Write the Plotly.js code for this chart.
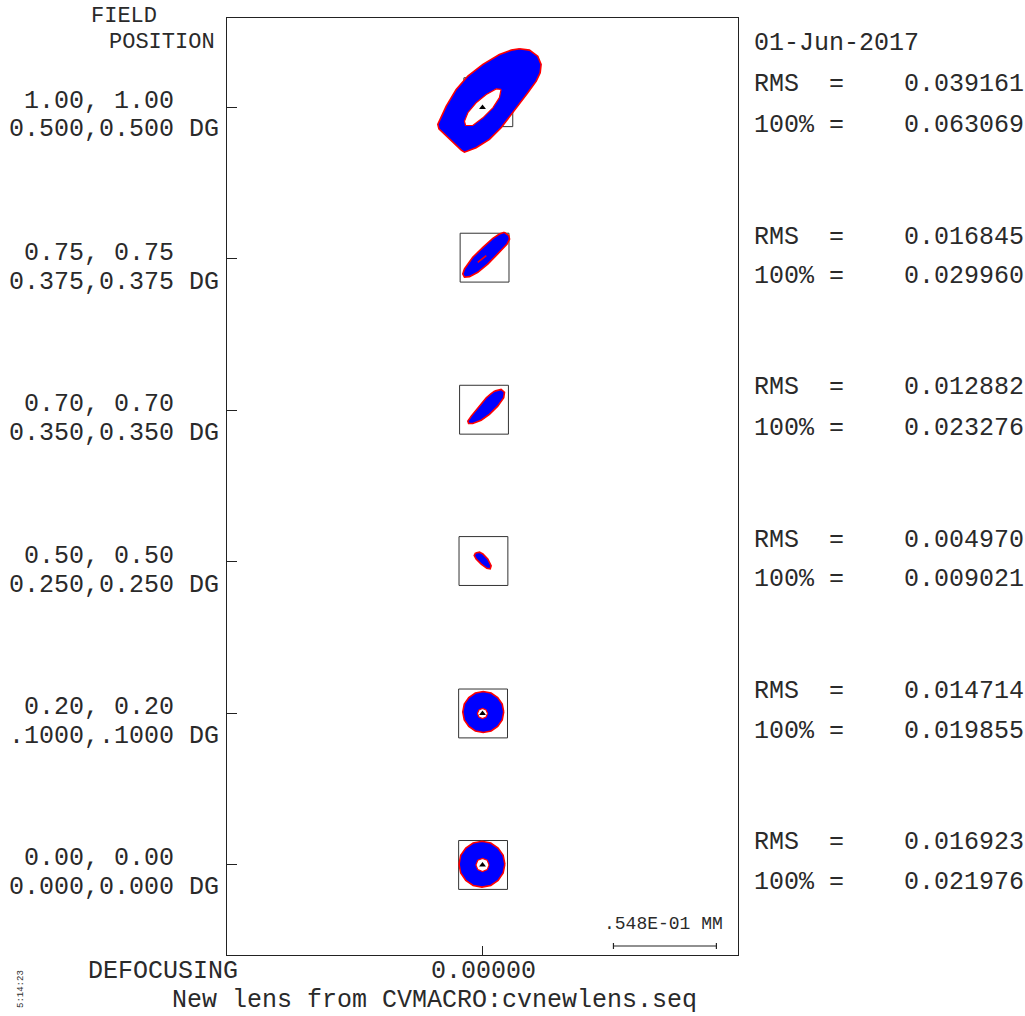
<!DOCTYPE html>
<html>
<head>
<meta charset="utf-8">
<script src="https://cdn.plot.ly/plotly-3.0.1.min.js"></script>
<style>html,body{margin:0;padding:0;background:#fff;}#chart{width:1025px;height:1016px;}</style>
</head>
<body>
<div id="chart"></div>
<script>
// ---------------- DATA (spot offsets in micrometres from the chief ray) ----------------
const fieldRel = ['1.00, 1.00', '0.75, 0.75', '0.70, 0.70', '0.50, 0.50', '0.20, 0.20', '0.00, 0.00'];
const fieldDeg = ['0.500,0.500 DG', '0.375,0.375 DG', '0.350,0.350 DG', '0.250,0.250 DG', '.1000,.1000 DG', '0.000,0.000 DG'];
const rmsValues = ['0.039161', '0.016845', '0.012882', '0.004970', '0.014714', '0.016923'];
const fullValues = ['0.063069', '0.029960', '0.023276', '0.009021', '0.019855', '0.021976'];

const spotOuterX = [
  [19.7, 25.0, 29.4, 31.2, 30.7, 28.6, 24.1, 16.1, 9.9, 3.7, -3.4, -9.6, -11.3, -23.2, -23.8, -19.3, -14.0, -7.8, 0.2, 9.0, 15.3],
  [11.7, 14.0, 14.4, 13.1, 8.1, 2.8, -2.5, -6.9, -9.6, -10.5, -9.6, -5.2, 0.2, 5.5, 9.0],
  [6.4, 9.9, 11.7, 11.3, 8.1, 3.7, -0.7, -5.2, -7.4, -7.8, -6.0, -2.5, 2.0, 4.6],
  [-3.7, -1.6, 0.2, 2.8, 4.6, 4.1, 2.3, -0.7, -3.4, -4.4],
  [11.3, 10.5, 8.1, 4.6, 0.4, -3.8, -7.3, -9.7, -10.5, -9.7, -7.3, -3.8, 0.4, 4.6, 8.1, 10.5],
  [11.9, 11.0, 8.3, 4.4, -0.3, -5.0, -8.9, -11.6, -12.5, -11.6, -8.9, -5.0, -0.3, 4.4, 8.3, 11.0]
];
const spotOuterY = [
  [31.2, 30.5, 27.3, 22.9, 18.5, 14.0, 7.8, -2.8, -10.8, -17.0, -21.4, -23.8, -22.7, -11.3, -9.0, 0.7, 9.6, 16.7, 22.9, 28.2, 30.5],
  [14.2, 12.4, 10.6, 8.0, 2.7, -2.7, -7.1, -9.4, -9.7, -8.0, -5.3, 0.9, 6.2, 11.0, 13.3],
  [10.3, 11.2, 9.7, 6.8, 2.3, -2.1, -5.2, -6.9, -6.9, -5.7, -3.0, 1.4, 6.8, 9.0],
  [4.8, 5.2, 4.3, 1.6, -2.0, -3.7, -3.4, -1.1, 1.6, 3.4],
  [0.8, 5.0, 8.5, 10.9, 11.7, 10.9, 8.5, 5.0, 0.8, -3.4, -6.9, -9.3, -10.1, -9.3, -6.9, -3.4],
  [0.4, 5.1, 9.0, 11.7, 12.6, 11.7, 9.0, 5.1, 0.4, -4.3, -8.2, -10.9, -11.8, -10.9, -8.2, -4.3]
];
const spotHoleX = [
  [9.9, 9.0, 5.5, 0.2, -5.2, -9.0, -9.6, -7.8, -3.4, 2.0, 7.3],
  null, null, null,
  [2.7, 1.9, 0.0, -1.9, -2.7, -1.9, 0.0, 1.9],
  [3.5, 2.5, 0.0, -2.5, -3.5, -2.5, 0.0, 2.5]
];
const spotHoleY = [
  [9.6, 5.2, -0.2, -5.5, -9.6, -9.6, -7.3, -2.8, 2.5, 6.9, 9.9],
  null, null, null,
  [0.0, 1.9, 2.7, 1.9, 0.0, -1.9, -2.7, -1.9],
  [0.0, 2.5, 3.5, 2.5, 0.0, -2.5, -3.5, -2.5]
];
const streakX = [null, [-2.5, 2.0], null, null, null, null];
const streakY = [null, [-1.8, 1.8], null, null, null, null];
const boxDx = [3.1, 1.1, 0.8, 0.5, 0.3, 0.3];
const boxDy = [2.8, 0.7, 0.4, 0.5, 0.0, 0.0];
const boxHalf = 13.0;
const chiefShown = [true, false, false, false, true, true];

const scaleBarUm = 54.8;
const scaleBarLabel = '.548E-01 MM';
const defocusLabel = '0.00000';
const dateLabel = '01-Jun-2017';
const lensTitle = 'New lens from CVMACRO:cvnewlens.seq';
const timeLabel = '5:14:23';

// ---------------- LAYOUT helpers ----------------
const W = 1025, H = 1016;
const PL = 227, PR = 738, PT = 18, PB = 955;
const rowPitch = 80.6;           // µm between field rows
const nRows = fieldRel.length;
const rowY = i => (nRows - 1 - i) * rowPitch;
const xRange = [-136, 136];
const yRange = [-47.9, 450.6];
const px = x => (x - PL) / (PR - PL);
const py = y => (PB - y) / (PB - PT);
const NB = '\u00A0';
const FONT = 'Liberation Mono, Courier New, monospace';
const TXT = '#2a2a2a';

const traces = [];

// boxes
(function () {
  const xs = [], ys = [];
  for (let i = 0; i < nRows; i++) {
    const cx = boxDx[i], cy = rowY(i) + boxDy[i];
    xs.push(cx - boxHalf, cx + boxHalf, cx + boxHalf, cx - boxHalf, cx - boxHalf, null);
    ys.push(cy - boxHalf, cy - boxHalf, cy + boxHalf, cy + boxHalf, cy - boxHalf, null);
  }
  traces.push({x: xs, y: ys, mode: 'lines', line: {color: '#333', width: 1}, hoverinfo: 'skip'});
})();

// spots
for (let i = 0; i < nRows; i++) {
  const ox = spotOuterX[i], oy = spotOuterY[i].map(v => v + rowY(i));
  traces.push({x: ox.concat([ox[0]]), y: oy.concat([oy[0]]), mode: 'lines', fill: 'toself',
    fillcolor: '#0000ff', line: {color: '#ff0000', width: 1.6}, hoverinfo: 'skip'});
  if (spotHoleX[i]) {
    const hx = spotHoleX[i], hy = spotHoleY[i].map(v => v + rowY(i));
    traces.push({x: hx.concat([hx[0]]), y: hy.concat([hy[0]]), mode: 'lines', fill: 'toself',
      fillcolor: '#ffffff', line: {color: '#ff0000', width: 1.2}, hoverinfo: 'skip'});
  }
  if (streakX[i]) {
    traces.push({x: streakX[i], y: streakY[i].map(v => v + rowY(i)), mode: 'lines',
      line: {color: '#ff0000', width: 1.5}, hoverinfo: 'skip'});
  }
}

// chief rays
(function () {
  const xs = [], ys = [];
  for (let i = 0; i < nRows; i++) if (chiefShown[i]) { xs.push(0); ys.push(rowY(i)); }
  traces.push({x: xs, y: ys, mode: 'markers', marker: {symbol: 'triangle-up', size: 6, color: '#000'}, hoverinfo: 'skip'});
})();

// scale bar
(function () {
  const x0 = 69.7, x1 = x0 + scaleBarUm, yb = -43.1, t = 1.6;
  traces.push({x: [x0, x0, null, x0, x1, null, x1, x1], y: [yb - t, yb + t, null, yb, yb, null, yb - t, yb + t],
    mode: 'lines', line: {color: '#222', width: 1.2}, hoverinfo: 'skip'});
})();

// annotations
const ann = [];
function addText(text, xp, yp, anchor, size, extra) {
  ann.push(Object.assign({text: text, xref: 'paper', yref: 'paper', x: px(xp), y: py(yp),
    xanchor: anchor, yanchor: 'middle', showarrow: false, borderpad: 0,
    font: {family: FONT, size: size || 25, color: TXT}}, extra || {}));
}
addText('FIELD', 124, 16, 'center', 22);
addText('POSITION', 162, 42, 'center', 22);
addText(dateLabel, 753, 43, 'left');
const rowPx = [108, 260, 411, 563, 714, 865];
for (let i = 0; i < nRows; i++) {
  const c = rowPx[i];
  addText(NB + fieldRel[i], 8, c - 7, 'left');
  addText(fieldDeg[i], 8, c + 22, 'left');
  addText('RMS' + NB + NB + '=' + NB + NB + NB + NB + rmsValues[i], 753, c - 23, 'left');
  addText('100%' + NB + '=' + NB + NB + NB + NB + fullValues[i], 753, c + 17, 'left');
}
addText(scaleBarLabel, 603, 924, 'left', 18);
addText('DEFOCUSING', 87, 971, 'left');
addText(defocusLabel, 483, 971, 'center');
addText(lensTitle, 434.5, 1001, 'center');
addText(timeLabel, 21, 989, 'center', 9, {textangle: -90});

const layout = {
  width: W, height: H,
  margin: {l: PL, r: W - PR, t: PT, b: H - PB, pad: 0},
  paper_bgcolor: '#fff', plot_bgcolor: '#fff',
  showlegend: false,
  xaxis: {range: xRange, showgrid: false, zeroline: false, showline: true, mirror: true,
    linecolor: '#222', linewidth: 1, ticks: 'inside', tickvals: [0], ticklen: 9, tickcolor: '#222',
    showticklabels: false, fixedrange: true},
  yaxis: {range: yRange, showgrid: false, zeroline: false, showline: true, mirror: true,
    linecolor: '#222', linewidth: 1, ticks: 'inside', tickvals: fieldRel.map((_, i) => rowY(i)), ticklen: 10,
    tickcolor: '#222', showticklabels: false, fixedrange: true},
  annotations: ann
};

Plotly.newPlot('chart', traces, layout, {staticPlot: true, displayModeBar: false});
</script>
</body>
</html>
